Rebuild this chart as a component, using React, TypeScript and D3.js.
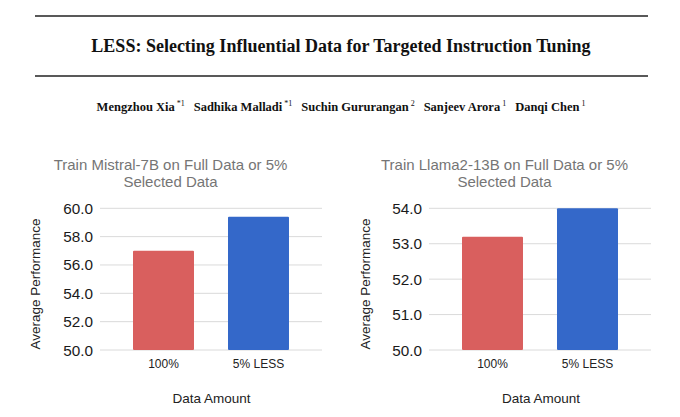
import React from "react";
import * as d3 from "d3";

const categories = ["100%", "5% LESS"];
const mistralValues = [57.0, 59.4];
const llamaValues = [53.2, 54.0];
const mistralTicks = [50, 52, 54, 56, 58, 60];
const llamaTicks = [50, 51, 52, 53, 54];
const barColors = ["#d95f5e", "#3468c9"];
const paperTitle = "LESS: Selecting Influential Data for Targeted Instruction Tuning";
const authors = [
  { name: "Mengzhou Xia", sup: "*1" },
  { name: "Sadhika Malladi", sup: "*1" },
  { name: "Suchin Gururangan", sup: "2" },
  { name: "Sanjeev Arora", sup: "1" },
  { name: "Danqi Chen", sup: "1" },
];
const chartTitles = [
  ["Train Mistral-7B on Full Data or 5%", "Selected Data"],
  ["Train Llama2-13B on Full Data or 5%", "Selected Data"],
];

type PanelProps = {
  values: number[];
  ticks: number[];
  domain: [number, number];
  gridX0: number;
  gridX1: number;
  bandPad: number;
  titleX: number;
  title: string[];
  yLabelX: number;
  xLabelX: number;
};

function Panel(p: PanelProps) {
  const y = d3.scaleLinear().domain(p.domain).range([350, 208.3]);
  const x = d3
    .scaleBand<string>()
    .domain(categories)
    .range([p.gridX0 + p.bandPad, p.gridX1 - p.bandPad])
    .paddingInner(0.358)
    .paddingOuter(0.179);
  const fmt = d3.format(".1f");
  const sans = "Liberation Sans, Arial, sans-serif";
  return (
    <g fontFamily={sans}>
      <text x={p.titleX} y={169.5} textAnchor="middle" fontSize={15} fill="#757575">
        {p.title[0]}
      </text>
      <text x={p.titleX} y={186.5} textAnchor="middle" fontSize={15} fill="#757575">
        {p.title[1]}
      </text>
      {p.ticks.map((t) => (
        <g key={t}>
          <line x1={p.gridX0} x2={p.gridX1} y1={y(t)} y2={y(t)} stroke="#dadada" strokeWidth={1} />
          <text x={p.gridX0 - 7} y={y(t)} dy="0.36em" textAnchor="end" fontSize={15.3} fill="#1a1a1a">
            {fmt(t)}
          </text>
        </g>
      ))}
      {categories.map((c, i) => (
        <rect
          key={c}
          x={x(c)}
          y={y(p.values[i])}
          width={x.bandwidth()}
          height={y(p.domain[0]) - y(p.values[i])}
          fill={barColors[i]}
          rx={1}
        />
      ))}
      {categories.map((c) => (
        <text key={c} x={(x(c) ?? 0) + x.bandwidth() / 2} y={368} textAnchor="middle" fontSize={12} fill="#222">
          {c}
        </text>
      ))}
      <text
        transform={`translate(${p.yLabelX},284) rotate(-90)`}
        textAnchor="middle"
        dy="0.35em"
        fontSize={13.5}
        fill="#222"
      >
        Average Performance
      </text>
      <text x={p.xLabelX} y={403} textAnchor="middle" fontSize={13.5} fill="#222">
        Data Amount
      </text>
    </g>
  );
}

export default function App() {
  const serif = "Liberation Serif, Times New Roman, serif";
  return (
    <svg
      width={680}
      height={417}
      style={{ position: "absolute", left: 0, top: 0, background: "#fff" }}
    >
      <rect width={680} height={417} fill="#fff" />
      <line x1={35} x2={648} y1={16} y2={16} stroke="#222" strokeWidth={1.6} />
      <line x1={35} x2={648} y1={76} y2={76} stroke="#222" strokeWidth={1.6} />
      <text x={341} y={52} textAnchor="middle" fontFamily={serif} fontWeight="bold" fontSize={18} fill="#111">
        {paperTitle}
      </text>
      <text x={341} y={111} textAnchor="middle" fontFamily={serif} fontWeight="bold" fontSize={12.5} fill="#111">
        {authors.map((a, i) => (
          <React.Fragment key={a.name}>
            <tspan dx={i === 0 ? 0 : 9} dy={i === 0 ? 0 : 5}>
              {a.name}
            </tspan>
            <tspan dx={2} dy={-5} fontSize={8} fontWeight="normal">
              {a.sup}
            </tspan>
          </React.Fragment>
        ))}
      </text>
      <Panel
        values={mistralValues}
        ticks={mistralTicks}
        domain={[50, 60]}
        gridX0={100}
        gridX1={322}
        bandPad={16}
        titleX={170.5}
        title={chartTitles[0]}
        yLabelX={35}
        xLabelX={211.5}
      />
      <Panel
        values={llamaValues}
        ticks={llamaTicks}
        domain={[50, 54]}
        gridX0={429}
        gridX1={651}
        bandPad={16}
        titleX={504.5}
        title={chartTitles[1]}
        yLabelX={365}
        xLabelX={541}
      />
    </svg>
  );
}
